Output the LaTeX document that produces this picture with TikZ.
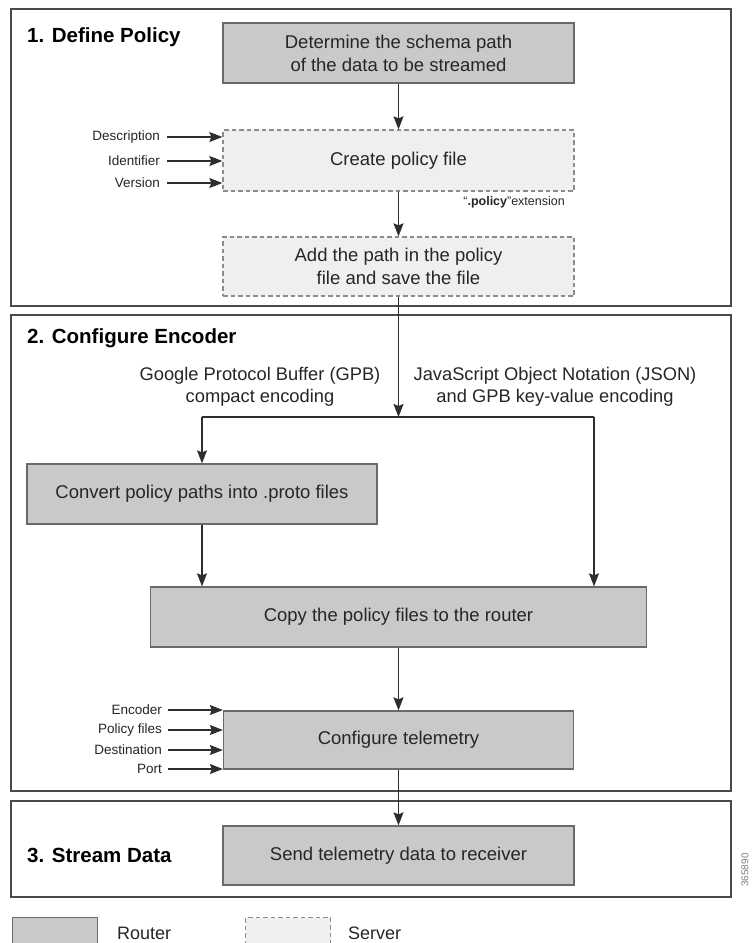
\documentclass[tikz,border=0pt]{standalone}
\usepackage{fontspec}
\setmainfont{Liberation Sans}
\usetikzlibrary{arrows.meta,calc}
\definecolor{routerfill}{HTML}{C9C9C9}
\definecolor{routerdraw}{HTML}{6A6A6A}
\definecolor{serverfill}{HTML}{EFEFEF}
\definecolor{serverdraw}{HTML}{8C8C8C}
\definecolor{framecol}{HTML}{4A4A4A}
\definecolor{txt}{HTML}{262626}
\definecolor{arrcol}{HTML}{2E2E2E}
\tikzset{
  routerbox/.style={draw=routerdraw, fill=routerfill, line width=1.3pt, inner sep=0pt,
    align=center, text=txt, font=\fontsize{18.5}{23}\selectfont},
  serverbox/.style={draw=serverdraw, fill=serverfill, line width=1.3pt, inner sep=0pt,
    dash pattern=on 4.5pt off 3pt, align=center, text=txt, font=\fontsize{18.5}{23}\selectfont},
  secframe/.style={draw=framecol, line width=1.5pt},
  heading/.style={anchor=west, inner sep=0pt, text=black, font=\bfseries\fontsize{20.5}{24}\selectfont},
  smalllabel/.style={anchor=east, inner sep=0pt, text=txt, font=\fontsize{13.5}{16}\selectfont},
  enclabel/.style={align=center, inner sep=0pt, text=txt, font=\fontsize{18.3}{22.5}\selectfont},
  legendtext/.style={anchor=west, inner sep=0pt, text=txt, font=\fontsize{18}{22}\selectfont},
  arr/.style={draw=arrcol, line width=1.3pt, -{Stealth[length=13pt,width=10pt,inset=2pt]}},
  plain/.style={draw=arrcol, line width=1.3pt},
}
\begin{document}
\begin{tikzpicture}[x=1pt,y=-1pt]
\useasboundingbox (0,0) rectangle (752,943);
\clip (0,0) rectangle (752,943);
\fill[white] (0,0) rectangle (752,943);

% section frames
\draw[secframe] (11,9) rectangle (731,306);
\draw[secframe] (11,315) rectangle (731,791);
\draw[secframe] (11,801) rectangle (731,897);

% headings
\node[heading] (h1) at (27,37) {1. Define Policy};
\node[heading] (h2) at (27,338) {2. Configure Encoder};
\node[heading] (h3) at (27,855) {3. Stream Data};

% section 1
\node[routerbox, minimum width=351pt, minimum height=60pt] (det) at (398.5,53)
  {Determine the schema path\\of the data to be streamed};
\node[serverbox, minimum width=351pt, minimum height=61pt] (create) at (398.5,160.5)
  {Create policy file};
\node[serverbox, minimum width=351pt, minimum height=59pt] (add) at (398.5,266.5)
  {Add the path in the policy\\file and save the file};

\node[smalllabel] (ldesc) at (160,137) {Description};
\node[smalllabel] (lid) at (160,161) {Identifier};
\node[smalllabel] (lver) at (160,183) {Version};
\node[anchor=east, inner sep=0pt, text=txt, font=\fontsize{12.5}{15}\selectfont] (ext) at (565,202)
  {“\textbf{.policy}”extension};

\draw[arr] (det) -- (create);
\draw[arr] (create) -- (add);
\draw[arr] ([xshift=7pt]ldesc.east) -- (ldesc.east -| create.west);
\draw[arr] ([xshift=7pt]lid.east) -- (lid.east -| create.west);
\draw[arr] ([xshift=7pt]lver.east) -- (lver.east -| create.west);

% section 2
\node[enclabel] (gpb) at (260,387) {Google Protocol Buffer (GPB)\\compact encoding};
\node[enclabel] (json) at (555,387) {JavaScript Object Notation (JSON)\\and GPB key-value encoding};

\coordinate (split) at (398.5,417);
\coordinate (bl) at (202,417);
\coordinate (br) at (594,417);

\node[routerbox, minimum width=350pt, minimum height=60pt] (convert) at (202,494)
  {Convert policy paths into .proto files};
\node[routerbox, minimum width=496pt, minimum height=60pt] (copy) at (398.5,617)
  {Copy the policy files to the router};
\node[routerbox, minimum width=350pt, minimum height=58pt] (conf) at (398.5,740)
  {Configure telemetry};

\node[smalllabel] (lenc) at (162,710) {Encoder};
\node[smalllabel] (lpol) at (162,730) {Policy files};
\node[smalllabel] (ldest) at (162,750) {Destination};
\node[smalllabel] (lport) at (162,769) {Port};

\draw[arr] (add) -- (split);
\draw[plain] (bl) -- (br);
\draw[arr] (bl) -- (convert);
\draw[arr] (br) -- (br |- copy.north);
\draw[arr] (convert) -- (convert |- copy.north);
\draw[arr] (copy) -- (conf);
\draw[arr] ([xshift=6pt]lenc.east) -- (lenc.east -| conf.west);
\draw[arr] ([xshift=6pt]lpol.east) -- (lpol.east -| conf.west);
\draw[arr] ([xshift=6pt]ldest.east) -- (ldest.east -| conf.west);
\draw[arr] ([xshift=6pt]lport.east) -- (lport.east -| conf.west);

% section 3
\node[routerbox, minimum width=351pt, minimum height=59pt] (send) at (398.5,855.5)
  {Send telemetry data to receiver};
\draw[arr] (conf) -- (send);

% legend
\node[routerbox, minimum width=85pt, minimum height=32pt, anchor=north west] (legr) at (12,917) {};
\node[legendtext] (legrt) at (117,933) {Router};
\node[serverbox, minimum width=85pt, minimum height=32pt, anchor=north west] (legs) at (245,917) {};
\node[legendtext] (legst) at (348,933) {Server};

% figure id
\node[rotate=90, inner sep=0pt, text=gray, font=\fontsize{10}{12}\selectfont] (figid) at (745,870) {365890};
\end{tikzpicture}
\end{document}
